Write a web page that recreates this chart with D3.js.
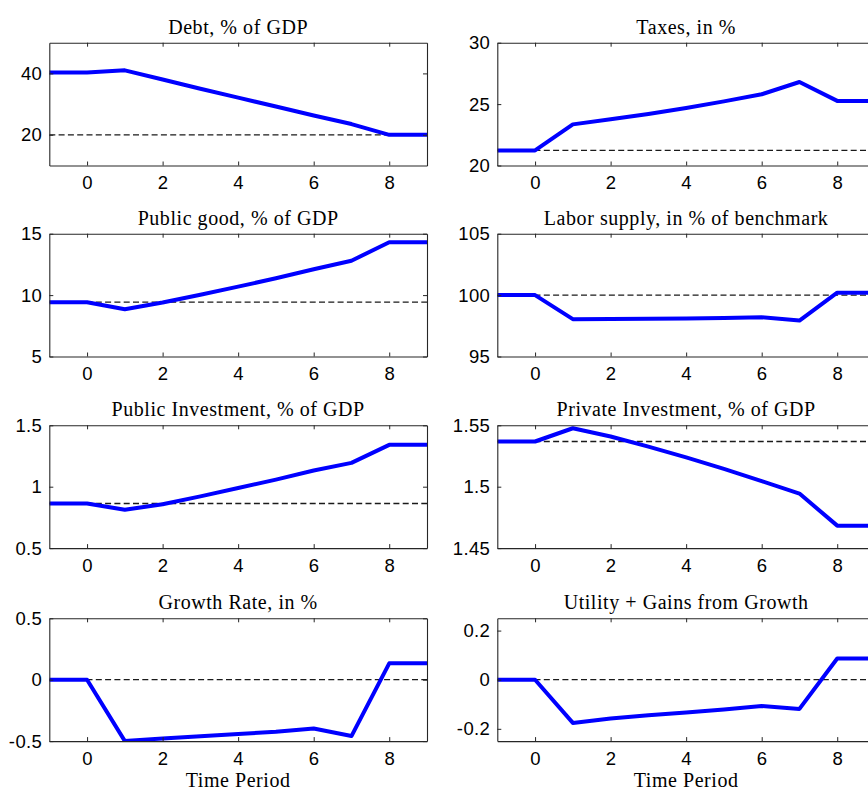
<!DOCTYPE html>
<html>
<head>
<meta charset="utf-8">
<script src="https://cdn.jsdelivr.net/npm/d3@7"></script>
<style>
  body { margin: 0; background: #fff; }
  svg { display: block; }
</style>
</head>
<body>
<svg id="chart"></svg>
<script>
// periods
const periods = [-1, 0, 1, 2, 3, 4, 5, 6, 7, 8, 9];

// series
const debt        = [40.3, 40.3, 41.0, 38.0, 35.0, 32.1, 29.2, 26.3, 23.5, 20.0, 20.0];
const taxes       = [21.23, 21.23, 23.35, 23.76, 24.2, 24.69, 25.22, 25.8, 26.8, 25.26, 25.26];
const publicGood  = [9.42, 9.42, 8.85, 9.4, 10.03, 10.69, 11.37, 12.1, 12.8, 14.3, 14.3];
const laborSupply = [100.0, 100.0, 98.04, 98.06, 98.08, 98.1, 98.14, 98.2, 97.93, 100.2, 100.2];
const publicInv   = [0.863, 0.863, 0.812, 0.857, 0.921, 0.989, 1.058, 1.132, 1.194, 1.341, 1.341];
const privateInv  = [1.5368, 1.5368, 1.5476, 1.5409, 1.5326, 1.5239, 1.5145, 1.5046, 1.4944, 1.4683, 1.4683];
const growth      = [0.0, 0.0, -0.5, -0.478, -0.46, -0.443, -0.424, -0.397, -0.459, 0.133, 0.133];
const utility     = [0.0, 0.0, -0.176, -0.158, -0.145, -0.134, -0.121, -0.107, -0.119, 0.0865, 0.0865];

// reference (dashed) levels
const baselines = [20, 21.23, 9.42, 100, 0.863, 1.5368, 0, 0];

const titles = [
  'Debt, % of GDP', 'Taxes, in %',
  'Public good, % of GDP', 'Labor supply, in % of benchmark',
  'Public Investment, % of GDP', 'Private Investment, % of GDP',
  'Growth Rate, in %', 'Utility + Gains from Growth'
];

const yDomains = [[10, 50], [20, 30], [5, 15], [95, 105], [0.5, 1.5], [1.45, 1.55], [-0.5, 0.5], [-0.25, 0.25]];
const yTicks = [[20, 40], [20, 25, 30], [5, 10, 15], [95, 100, 105], [0.5, 1, 1.5], [1.45, 1.5, 1.55], [-0.5, 0, 0.5], [-0.2, 0, 0.2]];
const yTickLabels = [
  ['20', '40'], ['20', '25', '30'], ['5', '10', '15'], ['95', '100', '105'],
  ['0.5', '1', '1.5'], ['1.45', '1.5', '1.55'], ['-0.5', '0', '0.5'], ['-0.2', '0', '0.2']
];
const xTicks = [0, 2, 4, 6, 8];
const xLabel = 'Time Period';

const series = [debt, taxes, publicGood, laborSupply, publicInv, privateInv, growth, utility];

// layout
const W = 868, H = 792;
const colLeft = [49.3, 497.3];
const panelW = 377.7;
const rowTop = [42.7, 233.7, 425.3, 618.3];
const panelH = 122.8;
const axisColor = '#262626';
const serif = '"Liberation Serif", "Times New Roman", serif';
const sans = '"Liberation Sans", Arial, sans-serif';

const svg = d3.select('#chart').attr('width', W).attr('height', H);

svg.append('defs').selectAll('clipPath')
  .data(series)
  .enter().append('clipPath')
  .attr('id', (d, i) => 'clip' + i)
  .append('rect')
  .attr('width', panelW)
  .attr('height', panelH);

series.forEach((values, i) => {
  const col = i % 2, row = Math.floor(i / 2);
  const g = svg.append('g').attr('transform', `translate(${colLeft[col]},${rowTop[row]})`);

  const x = d3.scaleLinear().domain([-1, 9]).range([0, panelW]);
  const y = d3.scaleLinear().domain(yDomains[i]).range([panelH, 0]);

  // data, clipped to the box
  const plot = g.append('g').attr('clip-path', `url(#clip${i})`);

  plot.append('line')
    .attr('x1', 0).attr('x2', panelW)
    .attr('y1', y(baselines[i])).attr('y2', y(baselines[i]))
    .attr('stroke', '#1a1a1a')
    .attr('stroke-width', 1.3)
    .attr('stroke-dasharray', '6,3.3');

  const line = d3.line()
    .x((d, k) => x(periods[k]))
    .y(d => y(d));

  plot.append('path')
    .datum(values)
    .attr('fill', 'none')
    .attr('stroke', '#0000ff')
    .attr('stroke-width', 4)
    .attr('stroke-linejoin', 'round')
    .attr('d', line);

  // axes with inward ticks on all four sides
  const bottom = g.append('g').attr('transform', `translate(0,${panelH})`)
    .call(d3.axisBottom(x).tickValues(xTicks).tickSizeInner(-4).tickSizeOuter(0).tickPadding(10));
  const top = g.append('g')
    .call(d3.axisTop(x).tickValues(xTicks).tickSizeInner(-4).tickSizeOuter(0).tickFormat(''));
  const left = g.append('g')
    .call(d3.axisLeft(y).tickValues(yTicks[i]).tickSizeInner(-4).tickSizeOuter(0).tickPadding(7)
      .tickFormat((d, k) => yTickLabels[i][k]));
  const right = g.append('g').attr('transform', `translate(${panelW},0)`)
    .call(d3.axisRight(y).tickValues(yTicks[i]).tickSizeInner(-4).tickSizeOuter(0).tickFormat(''));

  [bottom, top, left, right].forEach(a => {
    a.selectAll('.domain').attr('stroke', axisColor).attr('stroke-width', 1.1);
    a.selectAll('.tick line').attr('stroke', axisColor).attr('stroke-width', 1);
    a.selectAll('.tick text')
      .attr('fill', '#000')
      .style('font-family', sans)
      .style('font-size', '18.5px')
      .style('letter-spacing', '0.4px');
  });
  bottom.selectAll('.tick text').attr('dy', '0.75em');

  // title
  g.append('text')
    .attr('x', panelW / 2)
    .attr('y', -9)
    .attr('text-anchor', 'middle')
    .style('font-family', serif)
    .style('font-size', '20px')
    .style('letter-spacing', '0.55px')
    .attr('fill', '#000')
    .text(titles[i]);

  if (row === 3) {
    g.append('text')
      .attr('x', panelW / 2)
      .attr('y', panelH + 45.5)
      .attr('text-anchor', 'middle')
      .style('font-family', serif)
      .style('font-size', '20px')
      .style('letter-spacing', '0.55px')
      .attr('fill', '#000')
      .text(xLabel);
  }
});
</script>
</body>
</html>
